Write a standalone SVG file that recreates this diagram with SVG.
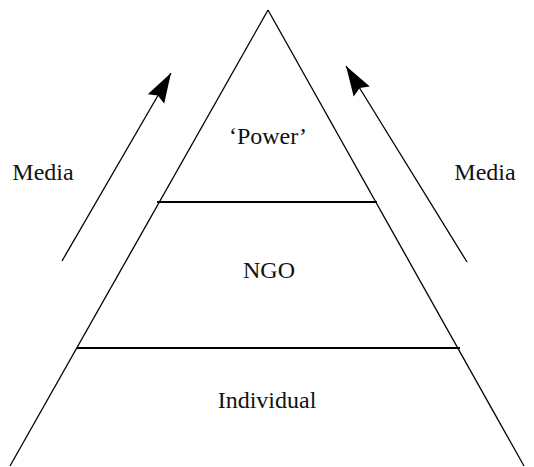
<svg xmlns="http://www.w3.org/2000/svg" width="534" height="467" viewBox="0 0 534 467">
<style>
.side{stroke:#000;stroke-width:1.3;fill:none}
.tier{stroke:#000;stroke-width:2.2;fill:none}
.arr{stroke:#000;stroke-width:1.3;fill:none}
.lbl{font-family:"Liberation Serif","Times New Roman",serif;font-size:24px;fill:#111;text-anchor:middle}
</style>
<defs>
<marker id="ah" markerUnits="userSpaceOnUse" markerWidth="32" markerHeight="20" refX="30" refY="9.5" orient="auto" viewBox="0 0 32 19">
<path d="M0,0 L30,9.5 L0,19 L4,9.5 Z" fill="#000"/>
</marker>
</defs>
<rect width="534" height="467" fill="#fff"/>
<g id="pyramid">
<line class="side" x1="268" y1="10" x2="10" y2="466"/>
<line class="side" x1="268" y1="10" x2="524" y2="466"/>
</g>
<g id="tier-power">
<text class="lbl" x="268" y="144">‘Power’</text>
</g>
<g id="tier-ngo">
<line class="tier" x1="157" y1="202" x2="377" y2="202"/>
<text class="lbl" x="269" y="278">NGO</text>
</g>
<g id="tier-individual">
<line class="tier" x1="77" y1="348" x2="460" y2="348"/>
<text class="lbl" x="267" y="408">Individual</text>
</g>
<g id="media-left">
<text class="lbl" x="43" y="180">Media</text>
</g>
<g id="media-right">
<text class="lbl" x="485" y="180">Media</text>
</g>
<g id="connectors">
<line class="arr" x1="62" y1="261" x2="171" y2="73" marker-end="url(#ah)"/>
<line class="arr" x1="467" y1="262" x2="346" y2="66" marker-end="url(#ah)"/>
</g>
</svg>
